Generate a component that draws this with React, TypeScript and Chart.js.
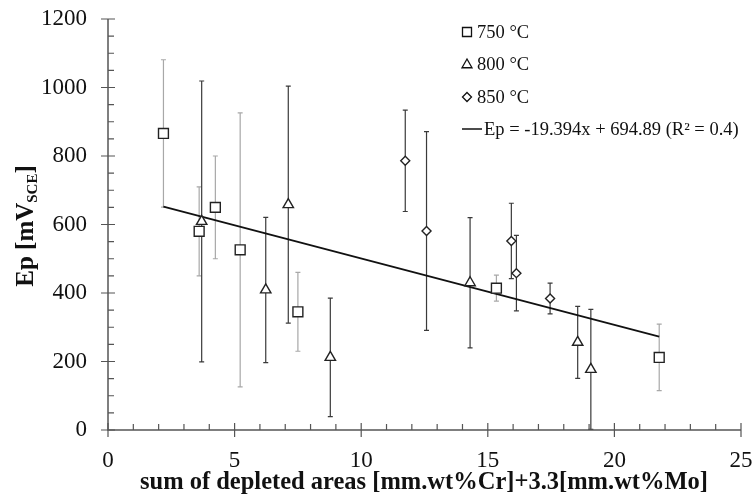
import React, { useEffect, useRef } from "react";
import { Chart, registerables } from "chart.js";

Chart.register(...registerables);

// 750 °C
const x750 = [2.19, 3.6, 4.24, 5.22, 7.5, 15.34, 21.77];
const y750 = [866, 580, 650, 526, 345, 414, 212];
const e750 = [215, 130, 150, 400, 115, 38, 97];
// 800 °C
const x800 = [3.7, 6.23, 7.12, 8.78, 14.3, 18.55, 19.07];
const y800 = [609, 409, 658, 212, 430, 256, 177];
const e800 = [410, 212, 346, 173, 190, 105, 175];
// 850 °C
const x850 = [11.74, 12.58, 15.93, 16.13, 17.46];
const y850 = [786, 581, 552, 458, 384];
const e850 = [148, 290, 110, 110, 45];
// regression
const slope = -19.394;
const intercept = 694.89;
const fitX = [2.19, 21.77];

const seriesLabels = ["750 °C", "800 °C", "850 °C"];
const fitLabel = "Ep = -19.394x + 694.89 (R² = 0.4)";
const xTitle = "sum of depleted areas [mm.wt%Cr]+3.3[mm.wt%Mo]";

const FONT = "'Liberation Serif', 'Times New Roman', serif";

const toPts = (xs: number[], ys: number[]) => xs.map((x, i) => ({ x, y: ys[i] }));

const errs = [e750, e800, e850];
const errColors = ["#a8a8a8", "#3a3a3a", "#3a3a3a"];

const customPlugin = {
  id: "custom",
  beforeDatasetsDraw(chart: any) {
    const ctx = chart.ctx;
    const ys = chart.scales.y;
    const area = chart.chartArea;
    ctx.save();
    for (let d = 0; d < 3; d++) {
      const meta = chart.getDatasetMeta(d);
      const ds = chart.data.datasets[d];
      ctx.strokeStyle = errColors[d];
      ctx.lineWidth = 1.2;
      meta.data.forEach((pt: any, i: number) => {
        const v = ds.data[i].y;
        const e = errs[d][i];
        const top = ys.getPixelForValue(v + e);
        const bot = Math.min(ys.getPixelForValue(v - e), area.bottom);
        const x = pt.x;
        ctx.beginPath();
        ctx.moveTo(x, top);
        ctx.lineTo(x, bot);
        ctx.moveTo(x - 2.5, top);
        ctx.lineTo(x + 2.5, top);
        if (bot < area.bottom) {
          ctx.moveTo(x - 2.5, bot);
          ctx.lineTo(x + 2.5, bot);
        }
        ctx.stroke();
      });
    }
    ctx.restore();
  },
  afterDraw(chart: any) {
    const ctx = chart.ctx;
    const xs = chart.scales.x;
    const ys = chart.scales.y;
    const a = chart.chartArea;
    ctx.save();
    ctx.strokeStyle = "#555";
    ctx.lineWidth = 1.5;
    // axis lines
    ctx.beginPath();
    ctx.moveTo(a.left, a.top);
    ctx.lineTo(a.left, a.bottom);
    ctx.lineTo(a.right, a.bottom);
    ctx.stroke();
    ctx.lineWidth = 1.2;
    ctx.beginPath();
    for (let v = 0; v <= 25; v += 1) {
      const px = xs.getPixelForValue(v);
      if (v % 5 === 0) {
        ctx.moveTo(px, a.bottom - 7);
        ctx.lineTo(px, a.bottom + 7);
      } else {
        ctx.moveTo(px, a.bottom - 6);
        ctx.lineTo(px, a.bottom);
      }
    }
    for (let v = 0; v <= 1200; v += 50) {
      const py = ys.getPixelForValue(v);
      if (v % 200 === 0) {
        ctx.moveTo(a.left - 7, py);
        ctx.lineTo(a.left + 7, py);
      } else {
        ctx.moveTo(a.left, py);
        ctx.lineTo(a.left + 6, py);
      }
    }
    ctx.stroke();

    // axis titles
    ctx.fillStyle = "#111";
    ctx.font = `bold 24.5px ${FONT}`;
    ctx.textAlign = "center";
    ctx.textBaseline = "middle";
    ctx.fillText(xTitle, 424, 483);

    // y title with subscript
    ctx.save();
    ctx.translate(26, 226);
    ctx.rotate(-Math.PI / 2);
    const p1 = "Ep [mV";
    const sub = "SCE";
    const p2 = "]";
    ctx.font = `bold 25px ${FONT}`;
    const w1 = ctx.measureText(p1).width;
    const w3 = ctx.measureText(p2).width;
    ctx.font = `bold 15px ${FONT}`;
    const w2 = ctx.measureText(sub).width;
    const total = w1 + w2 + w3;
    let sx = -total / 2;
    ctx.textAlign = "left";
    ctx.textBaseline = "alphabetic";
    ctx.font = `bold 25px ${FONT}`;
    ctx.fillText(p1, sx, 7);
    sx += w1;
    ctx.font = `bold 15px ${FONT}`;
    ctx.fillText(sub, sx, 11);
    sx += w2;
    ctx.font = `bold 25px ${FONT}`;
    ctx.fillText(p2, sx, 7);
    ctx.restore();

    // legend
    const lx = 467;
    const rows = [32, 64, 97];
    ctx.font = `18.5px ${FONT}`;
    ctx.textAlign = "left";
    ctx.textBaseline = "middle";
    ctx.fillStyle = "#111";
    for (let d = 0; d < 3; d++) {
      const ds = chart.data.datasets[d];
      ctx.strokeStyle = "#111";
      ctx.lineWidth = 1.3;
      ctx.fillStyle = "#fff";
      ctx.beginPath();
      const r = d === 0 ? 4.5 : d === 1 ? 5 : 4.5;
      const y = rows[d];
      if (d === 0) {
        ctx.rect(lx - r, y - r, 2 * r, 2 * r);
      } else if (d === 1) {
        ctx.moveTo(lx, y - r);
        ctx.lineTo(lx + r, y + r * 0.75);
        ctx.lineTo(lx - r, y + r * 0.75);
        ctx.closePath();
      } else {
        ctx.moveTo(lx, y - r);
        ctx.lineTo(lx + r, y);
        ctx.lineTo(lx, y + r);
        ctx.lineTo(lx - r, y);
        ctx.closePath();
      }
      ctx.fill();
      ctx.stroke();
      ctx.fillStyle = "#111";
      ctx.fillText(ds.label, lx + 10, y + 1);
    }
    ctx.strokeStyle = "#111";
    ctx.lineWidth = 1.5;
    ctx.beginPath();
    ctx.moveTo(462, 129);
    ctx.lineTo(482, 129);
    ctx.stroke();
    ctx.fillText(fitLabel, 484, 130);
    ctx.restore();
  },
};

export default function App() {
  const ref = useRef<HTMLCanvasElement>(null);
  useEffect(() => {
    if (!ref.current) return;
    const fitData = fitX.map((x) => ({ x, y: slope * x + intercept }));
    const chart = new Chart(ref.current, {
      type: "scatter",
      data: {
        datasets: [
          {
            label: seriesLabels[0],
            data: toPts(x750, y750),
            pointStyle: "rect",
            pointRadius: 7,
            borderColor: "#222",
            backgroundColor: "#fff",
            borderWidth: 1.4,
            order: 1,
          },
          {
            label: seriesLabels[1],
            data: toPts(x800, y800),
            pointStyle: "triangle",
            pointRadius: 6,
            borderColor: "#222",
            backgroundColor: "#fff",
            borderWidth: 1.4,
            order: 1,
          },
          {
            label: seriesLabels[2],
            data: toPts(x850, y850),
            pointStyle: "rectRot",
            pointRadius: 4.5,
            borderColor: "#222",
            backgroundColor: "#fff",
            borderWidth: 1.4,
            order: 1,
          },
          {
            label: fitLabel,
            type: "line",
            data: fitData,
            showLine: true,
            pointRadius: 0,
            borderColor: "#111",
            borderWidth: 1.8,
            fill: false,
            order: 2,
          } as any,
        ],
      },
      options: {
        animation: false,
        responsive: true,
        maintainAspectRatio: false,
        layout: { padding: { top: 19, right: 13, left: 0, bottom: 0 } },
        plugins: {
          legend: { display: false },
          tooltip: { enabled: false },
        },
        scales: {
          x: {
            type: "linear",
            min: 0,
            max: 25,
            grid: { display: false, drawTicks: false },
            border: { display: false },
            ticks: {
              stepSize: 5,
              padding: 17,
              color: "#111",
              font: { family: FONT, size: 23 },
              callback: (v: any) => String(v),
            },
            afterFit: (s: any) => {
              s.height = 67;
              s.paddingLeft = 0;
              s.paddingRight = 0;
            },
          },
          y: {
            min: 0,
            max: 1200,
            grid: { display: false, drawTicks: false },
            border: { display: false },
            ticks: {
              stepSize: 200,
              padding: 21,
              color: "#111",
              font: { family: FONT, size: 23 },
              callback: (v: any) => String(v),
            },
            afterFit: (s: any) => {
              s.width = 108;
              s.paddingTop = 0;
              s.paddingBottom = 0;
            },
          },
        },
      },
      plugins: [customPlugin],
    });
    return () => chart.destroy();
  }, []);
  return (
    <div style={{ position: "fixed", left: 0, top: 0, width: 754, height: 497, background: "#fff" }}>
      <canvas ref={ref} />
    </div>
  );
}
